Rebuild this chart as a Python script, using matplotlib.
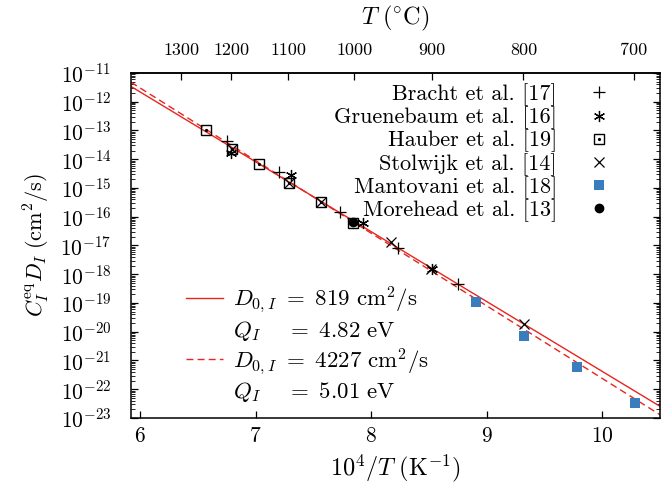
import numpy as np
import matplotlib
matplotlib.use("Agg")
import matplotlib.pyplot as plt
from matplotlib.ticker import LogLocator, NullFormatter, FixedLocator
from matplotlib.legend_handler import HandlerTuple

plt.rcParams['font.family'] = 'serif'
plt.rcParams['font.serif'] = ['cmr10']
plt.rcParams['mathtext.fontset'] = 'cm'
plt.rcParams['axes.formatter.use_mathtext'] = True
plt.rcParams['axes.unicode_minus'] = True
plt.rcParams['font.size'] = 15.5

# data: x = 1e4/T (1/K), y = C_I^eq D_I (cm^2/s)
bracht_x = [6.753, 7.201, 7.734, 8.232, 8.751]
bracht_y = [4.3e-14, 3.5e-15, 1.43e-16, 8.3e-18, 4.5e-19]
gruen_x = [6.786, 7.305, 7.931, 8.529]
gruen_y = [1.7e-14, 2.8e-15, 5.9e-17, 1.48e-18]
hauber_x = [6.569, 6.792, 7.028, 7.288, 7.562, 7.842]
hauber_y = [1.05e-13, 2.2e-14, 6.6e-15, 1.5e-15, 3.2e-16, 6.2e-17]
stolwijk_x = [6.792, 7.288, 7.562, 8.171, 8.522, 9.323]
stolwijk_y = [2.2e-14, 1.5e-15, 3.2e-16, 1.29e-17, 1.52e-18, 1.82e-20]
mantovani_x = [8.907, 9.323, 9.779, 10.284]
mantovani_y = [1.06e-19, 7.3e-21, 6.1e-22, 3.4e-23]
morehead_x = [7.842]
morehead_y = [6.4e-17]

# Arrhenius fits
D0_fits = [819, 4227]
Q_fits = [4.82, 5.01]
kB = 8.617e-5
temps_C = [1300, 1200, 1100, 1000, 900, 800, 700]

xmin, xmax = 5.92, 10.5

fig = plt.figure(figsize=(6.68, 4.87), dpi=100)
ax = fig.add_axes([0.196, 0.1417, 0.792, 0.7085])

xx = np.linspace(xmin, xmax, 200)
red = '#e8251f'
fit_lines = []
for (D0, Q, ls) in zip(D0_fits, Q_fits, ['-', '--']):
    yy = D0 * np.exp(-Q * xx * 1e-4 / kB)
    l, = ax.plot(xx, yy, color=red, ls=ls, lw=1.0, zorder=2)
    if ls == '--':
        l.set_dashes((5, 3))
    fit_lines.append(l)

ms = dict(color='k', ls='none', zorder=3)
h_br, = ax.plot(bracht_x, bracht_y, marker='+', ms=8, mew=0.9, **ms)
h_gr, = ax.plot(gruen_x, gruen_y, marker=(6, 2, 0), ms=8, mew=0.9, **ms)
h_ha, = ax.plot(hauber_x, hauber_y, marker='s', ms=7.5, mfc='none', mew=1.0, **ms)
h_had, = ax.plot(hauber_x, hauber_y, marker='o', ms=1.3, **ms)
h_st, = ax.plot(stolwijk_x, stolwijk_y, marker='x', ms=7, mew=0.9, **ms)
h_ma, = ax.plot(mantovani_x, mantovani_y, marker='s', ms=7.5, color='#3a7dbf', ls='none', mew=0, zorder=3)
h_mo, = ax.plot(morehead_x, morehead_y, marker='o', ms=6, **ms)

ax.set_yscale('log')
ax.set_xlim(xmin, xmax)
ax.set_ylim(1e-23, 1e-11)
ax.set_xticks([6, 7, 8, 9, 10])
ax.yaxis.set_major_locator(LogLocator(base=10, numticks=30))
ax.yaxis.set_minor_locator(LogLocator(base=10, subs=np.arange(2, 10), numticks=30))
ax.yaxis.set_minor_formatter(NullFormatter())
ax.tick_params(which='both', direction='in', right=True, top=False)
ax.tick_params(which='major', length=5, width=0.9)
ax.tick_params(which='minor', length=3, width=0.6)
ax.tick_params(axis='x', pad=6)
ax.tick_params(axis='y', pad=14)
for s in ax.spines.values():
    s.set_linewidth(1.1)

ax.set_xlabel(r'$10^4/T\ (\mathrm{K}^{-1})$', fontsize=17.5, labelpad=5)
ax.set_ylabel(r'$C_I^{\mathrm{eq}} D_I\ (\mathrm{cm}^2/\mathrm{s})$', fontsize=16, labelpad=6)

# top temperature axis
def to_C(x):
    x = np.asarray(x, dtype=float)
    with np.errstate(divide='ignore'):
        return 1e4 / x - 273.15

def from_C(t):
    t = np.asarray(t, dtype=float)
    with np.errstate(divide='ignore'):
        return 1e4 / (t + 273.15)

sec = ax.secondary_xaxis('top', functions=(to_C, from_C))
sec.xaxis.set_major_locator(FixedLocator(temps_C))
sec.xaxis.set_minor_locator(FixedLocator([]))
sec.set_xticklabels([str(t) for t in temps_C])
sec.tick_params(direction='in', length=5, width=0.9, pad=11, labelsize=13)
sec.spines['top'].set_linewidth(1.1)
sec.set_xlabel(r'$T\ (^{\circ}\mathrm{C})$', fontsize=17.5, labelpad=13)

leg1 = ax.legend([h_br, h_gr, (h_ha, h_had), h_st, h_ma, h_mo],
                 ['Bracht et al. [17]', 'Gruenebaum et al. [16]', 'Hauber et al. [19]',
                  'Stolwijk et al. [14]', 'Mantovani et al. [18]', 'Morehead et al. [13]'],
                 handler_map={tuple: HandlerTuple(ndivide=1)},
                 loc='upper right', bbox_to_anchor=(0.933, 1.012), frameon=False,
                 markerfirst=False, handlelength=1.0, handletextpad=1.4,
                 labelspacing=0.02, borderaxespad=0.25, fontsize=16)
ax.add_artist(leg1)

blank, = ax.plot([], [], ls='none')
ax.legend([fit_lines[0], blank, fit_lines[1], blank],
          [r'$D_{0,I}\ =\ 819\ \mathrm{cm}^2/\mathrm{s}$',
           r'$Q_I\ \ \ \ =\ 4.82\ \mathrm{eV}$',
           r'$D_{0,I}\ =\ 4227\ \mathrm{cm}^2/\mathrm{s}$',
           r'$Q_I\ \ \ \ =\ 5.01\ \mathrm{eV}$'],
          loc='lower left', bbox_to_anchor=(0.066, -0.02), frameon=False,
          handlelength=1.6, handletextpad=0.45, labelspacing=0.15, fontsize=16.5)

fig.savefig('out.png', dpi=100)
